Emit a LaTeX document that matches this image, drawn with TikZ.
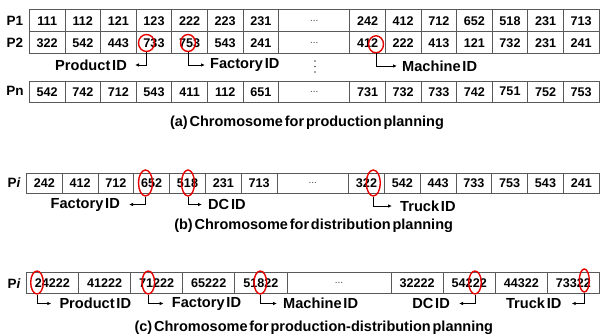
\documentclass[tikz,border=0pt]{standalone}
\usepackage{fontspec}
\setmainfont{Liberation Sans}[WordSpace=0.45]
\usetikzlibrary{shapes.geometric,arrows.meta}
\begin{document}
\begin{tikzpicture}[x=1pt,y=-1pt,
  cell/.style={draw=black!65, line width=0.8pt, inner sep=0pt, anchor=north west, font=\fontsize{12.6}{12.6}\selectfont\bfseries},
  dotcell/.style={cell, font=\fontsize{10}{10}\selectfont, text=black!70},
  rowlab/.style={font=\fontsize{13.5}{13.5}\selectfont\bfseries, inner sep=0pt},
  idlab/.style={font=\fontsize{14.6}{14.6}\selectfont\bfseries, inner sep=0pt},
  caption/.style={font=\fontsize{14.5}{14.5}\selectfont\bfseries, inner sep=0pt},
  redring/.style={draw=red!90!black, line width=1.4pt, ellipse, inner sep=0pt},
  conn/.style={-{Latex[length=4pt,width=3.5pt]}, line width=0.8pt},
  vdot/.style={fill=black!70},
]
\useasboundingbox (0,0) rectangle (600,336);
\fill[white] (0,0) rectangle (600,336);

% ---------- (a) ----------
\def\wa{35.6}
\def\wad{71.2}
\foreach \rowname/\rtop/\rh/\L/\R in {
  a1/9.3/22.2/{111,112,121,123,222,223,231}/{242,412,712,652,518,231,713},
  a2/31.5/22/{322,542,443,733,753,543,241}/{412,222,413,121,732,231,241},
  an/80.8/21/{542,742,712,543,411,112,651}/{731,732,733,742,751,752,753}}{
  \foreach \t [count=\i] in \L
    \node[cell, minimum width=\wa pt, minimum height=\rh pt] (\rowname-\i) at ({29+(\i-1)*\wa},\rtop) {\t};
  \node[dotcell, minimum width=\wad pt, minimum height=\rh pt] (\rowname-d) at ({29+7*\wa},\rtop) {...};
  \foreach \t [count=\i] in \R
    \node[cell, minimum width=\wa pt, minimum height=\rh pt] (\rowname-r\i) at ({29+(\i+8)*\wa},\rtop) {\t};
}
\node[rowlab] (lp1) at (15,20.5) {P1};
\node[rowlab] (lp2) at (15,42.5) {P2};
\node[rowlab] (lpn) at (15,91.3) {Pn};
% vertical ellipsis between rows
\foreach \yy in {61,66.5,72}
  \fill[vdot] (315,\yy) circle (0.9);

\node[redring, minimum width=16pt, minimum height=17pt] (ra1) at (146.5,43) {};
\node[redring, minimum width=15pt, minimum height=17pt] (ra2) at (188,43) {};
\node[redring, minimum width=15pt, minimum height=17pt] (ra3) at (376,44.3) {};

\node[idlab, anchor=east] (la1) at (127,65) {Product ID};
\node[idlab, anchor=west] (la2) at (210,65) {Factory ID};
\node[idlab, anchor=west] (la3) at (402,66) {Machine ID};
\draw[conn, shorten >=8pt] (ra1.south) |- (la1.east);
\draw[conn, shorten >=5pt] (ra2.south) |- (la2.west);
\draw[conn, shorten >=5pt] (ra3.south) |- (la3.west);

\node[caption] (capa) at (307,123) {(a) Chromosome for production planning};

% ---------- (b) ----------
\def\wb{35.8}
\def\wbd{71.6}
\foreach \t [count=\i] in {242,412,712,652,518,231,713}
  \node[cell, minimum width=\wb pt, minimum height=20pt] (b-\i) at ({26+(\i-1)*\wb},173) {\t};
\node[dotcell, minimum width=\wbd pt, minimum height=20pt] (b-d) at ({26+7*\wb},173) {...};
\foreach \t [count=\i] in {322,542,443,733,753,543,241}
  \node[cell, minimum width=\wb pt, minimum height=20pt] (b-r\i) at ({26+(\i+8)*\wb},173) {\t};
\node[rowlab] (lpib) at (14,183) {P\textit{i}};

\node[redring, minimum width=14pt, minimum height=26pt] (rb1) at (145.5,183) {};
\node[redring, minimum width=13pt, minimum height=26pt] (rb2) at (188,183) {};
\node[redring, minimum width=14pt, minimum height=26pt] (rb3) at (373.3,183) {};

\node[idlab, anchor=east] (lb1) at (120,204.5) {Factory ID};
\node[idlab, anchor=west] (lb2) at (208,204.5) {DC ID};
\node[idlab, anchor=west] (lb3) at (400,206) {Truck ID};
\draw[conn, shorten >=9pt] (rb1.south) |- (lb1.east);
\draw[conn, shorten >=6pt] (rb2.south) |- (lb2.west);
\draw[conn, shorten >=8pt] (rb3.south) |- (lb3.west);

\node[caption] (capb) at (313.6,226) {(b) Chromosome for distribution planning};

% ---------- (c) ----------
\def\wc{52.1}
\def\wcd{104.2}
\foreach \t [count=\i] in {24222,41222,71222,65222,51822}
  \node[cell, minimum width=\wc pt, minimum height=21.6pt] (c-\i) at ({26+(\i-1)*\wc},271.7) {\t};
\node[dotcell, minimum width=\wcd pt, minimum height=21.6pt] (c-d) at ({26+5*\wc},271.7) {...};
\foreach \t [count=\i] in {32222,54222,44322,73322}
  \node[cell, minimum width=\wc pt, minimum height=21.6pt] (c-r\i) at ({26+(\i+6)*\wc},271.7) {\t};
\node[rowlab] (lpic) at (14,284) {P\textit{i}};

\node[redring, minimum width=12.6pt, minimum height=23pt] (rc1) at (37,282.5) {};
\node[redring, minimum width=12.6pt, minimum height=23pt] (rc2) at (148.3,282.5) {};
\node[redring, minimum width=12.6pt, minimum height=23pt] (rc3) at (260.3,282.5) {};
\node[redring, minimum width=12.6pt, minimum height=23pt] (rc4) at (475,282.5) {};
\node[redring, minimum width=10pt, minimum height=23pt] (rc5) at (584.3,280.5) {};

\node[idlab, anchor=west] (lc1) at (59.3,303.5) {Product ID};
\node[idlab, anchor=west] (lc2) at (171.7,303.5) {Factory ID};
\node[idlab, anchor=west] (lc3) at (283,303.5) {Machine ID};
\node[idlab, anchor=east] (lc4) at (450,303.5) {DC ID};
\node[idlab, anchor=east] (lc5) at (561.7,303.5) {Truck ID};
\draw[conn, shorten >=8pt] (rc1.south) |- (lc1.west);
\draw[conn, shorten >=8pt] (rc2.south) |- (lc2.west);
\draw[conn, shorten >=6pt] (rc3.south) |- (lc3.west);
\draw[conn, shorten >=9pt] (rc4.south) |- (lc4.east);
\draw[conn, shorten >=10pt] (rc5.south) |- (lc5.east);

\node[caption] (capc) at (313.8,327.3) {(c) Chromosome for production-distribution planning};
\end{tikzpicture}
\end{document}
